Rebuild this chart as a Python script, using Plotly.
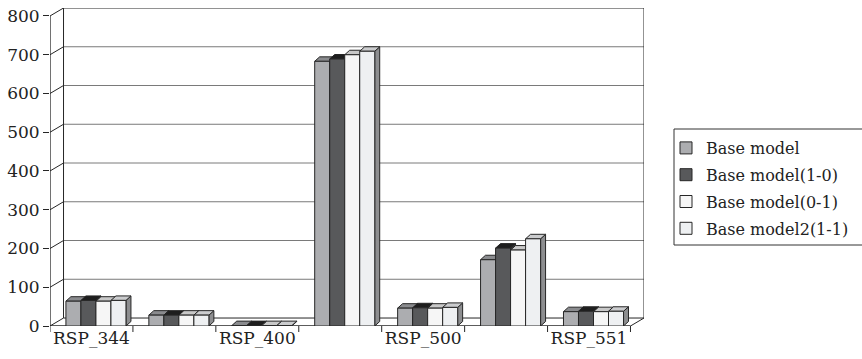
import plotly.graph_objects as go

# ---- data ----
categories = ["RSP_344", "", "RSP_400", "", "RSP_500", "", "RSP_551"]
series_names = ["Base model", "Base model(1-0)", "Base model(0-1)", "Base model2(1-1)"]
base_model = [64, 28, 1, 683, 46, 171, 37]
base_model_1_0 = [66, 28, 1, 689, 47, 201, 38]
base_model_0_1 = [64, 28, 1, 700, 46, 196, 37]
base_model2_1_1 = [66, 28, 1, 709, 48, 225, 38]
series_values = [base_model, base_model_1_0, base_model_0_1, base_model2_1_1]
y_ticks = [0, 100, 200, 300, 400, 500, 600, 700, 800]

# ---- style ----
FONT = "DejaVu Serif"
EDGE = "#262626"
front_colors = ["#acadb0", "#58595b", "#f6f6f6", "#eef0f2"]
top_colors = ["#8a8b8e", "#1e1e1e", "#c8c8c8", "#cbccce"]
side_colors = ["#7c7d80", "#3a3a3a", "#a9a9a9", "#8d8e90"]

W, H = 862, 359
M_L, M_R, M_T, M_B = 50, 218, 8, 33
PLOT_W = W - M_L - M_R
PLOT_H = H - M_T - M_B

n_cat = len(categories)
Y_MAX = y_ticks[-1]
# oblique depth of the chart box (in axis units)
DX = 0.163
DY = 20.6
# depth of each bar
BDX = 0.06
BDY = 11.6
BAR_W = 0.181
GROUP_SHIFT = 0.554


def px_x(p):
    return (p - M_L) / PLOT_W


def px_y(p):
    return (H - M_B - p) / PLOT_H


shapes = []


def line(x0, y0, x1, y1, color=EDGE, width=1, yref="y"):
    shapes.append(dict(type="line", xref="x", yref=yref, x0=x0, y0=y0, x1=x1, y1=y1,
                       line=dict(color=color, width=width), layer="below"))


# back wall gridlines and frame
for v in y_ticks:
    col = EDGE if v in (0, Y_MAX) else "#7a7a7a"
    line(DX, v + DY, n_cat + DX, v + DY, color=col)
    line(0, v, DX, v + DY)
line(DX, DY, DX, Y_MAX + DY)
line(n_cat + DX, DY, n_cat + DX, Y_MAX + DY)
line(n_cat, 0, n_cat + DX, DY)
line(0, 0, 0, Y_MAX, width=1.3)
line(0, 0, n_cat, 0, width=1.3)
# category boundary tick marks below the front floor edge
for i in range(n_cat + 1):
    line(i, 0, i, -6 / PLOT_H, yref="paper")

# legend frame (runs off the right edge of the page)
shapes.append(dict(type="rect", xref="paper", yref="paper",
                   x0=px_x(674), x1=px_x(880), y0=px_y(245), y1=px_y(129),
                   line=dict(color="#333333", width=1), fillcolor="white", layer="below"))


def poly(pts, fill):
    path = "M " + " L ".join(f"{x:.5f},{y:.4f}" for x, y in pts) + " Z"
    shapes.append(dict(type="path", xref="x", yref="y", path=path,
                       fillcolor=fill, line=dict(color=EDGE, width=1), layer="below"))


fig = go.Figure()

bar_x = []
for k in range(len(series_values)):
    bar_x.append([i + GROUP_SHIFT + (k - 1.5) * BAR_W for i in range(n_cat)])

# top and side faces of the bars, left to right
for i in range(n_cat):
    for k, vals in enumerate(series_values):
        xc = bar_x[k][i]
        v = vals[i]
        x0, x1 = xc - BAR_W / 2, xc + BAR_W / 2
        poly([(x1, 0), (x1, v), (x1 + BDX, v + BDY), (x1 + BDX, BDY)], side_colors[k])
        poly([(x0, v), (x1, v), (x1 + BDX, v + BDY), (x0 + BDX, v + BDY)], top_colors[k])

# front faces
for k, (name, vals) in enumerate(zip(series_names, series_values)):
    fig.add_trace(go.Bar(
        x=bar_x[k], y=vals, width=BAR_W, name=name, legendgroup=name,
        marker=dict(color=front_colors[k], line=dict(color=EDGE, width=1)),
        hoverinfo="y+name",
    ))

label_vals = [i + 0.5 for i, c in enumerate(categories) if c]
label_text = [c for c in categories if c]

fig.update_layout(
    width=W, height=H,
    margin=dict(l=M_L, r=M_R, t=M_T, b=M_B),
    paper_bgcolor="white", plot_bgcolor="white",
    barmode="overlay",
    shapes=shapes,
    font=dict(family=FONT, size=17, color="#222222"),
    xaxis=dict(
        range=[0, n_cat + DX], showgrid=False, zeroline=False, showline=False,
        tickmode="array", tickvals=label_vals, ticktext=label_text, ticks="",
        tickfont=dict(family=FONT, size=17, color="#222222"),
        automargin=False, fixedrange=True,
    ),
    yaxis=dict(
        range=[0, Y_MAX + DY], showgrid=False, zeroline=False, showline=False,
        tickmode="array", tickvals=y_ticks, ticks="outside", ticklen=6,
        tickcolor=EDGE, tickwidth=1,
        tickfont=dict(family=FONT, size=17, color="#222222"),
        automargin=False, fixedrange=True,
    ),
    legend=dict(
        x=px_x(666), y=px_y(131), xanchor="left", yanchor="top",
        borderwidth=0, bgcolor="rgba(0,0,0,0)",
        font=dict(family=FONT, size=16, color="#222222"),
        traceorder="grouped", tracegroupgap=3,
    ),
    showlegend=True,
)

fig.write_html("out.html")
